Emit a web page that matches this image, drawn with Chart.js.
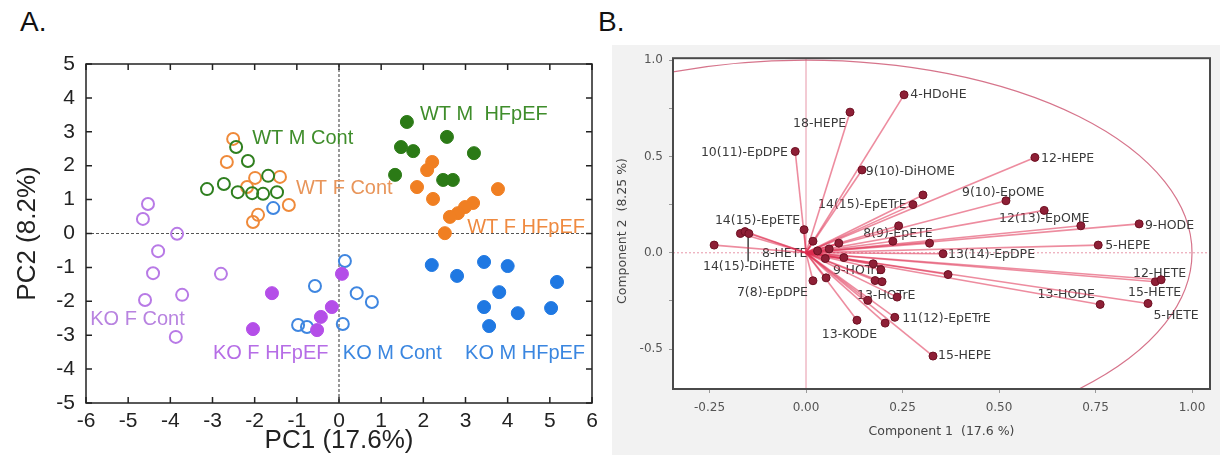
<!DOCTYPE html>
<html>
<head>
<meta charset="utf-8">
<script src="https://cdn.jsdelivr.net/npm/chart.js@4.4.0/dist/chart.umd.min.js"></script>
<style>
  body { margin: 0; background: #fff; width: 1220px; height: 474px; position: relative; overflow: hidden; font-family: 'Liberation Sans', Arial, sans-serif; }
  #pca { position: absolute; left: 0; top: 0; }
  #load { position: absolute; left: 612px; top: 45px; }
  .tag { position: absolute; font-size: 28px; line-height: 28px; color: #111; }
</style>
</head>
<body>
<div class="tag" style="left:20px;top:8px">A.</div>
<div class="tag" style="left:598px;top:8px">B.</div>
<canvas id="pca" width="605" height="474"></canvas>
<canvas id="load" width="608" height="410"></canvas>
<script>
// ---- panel A: PCA scores ----
const wtMCont = [[-2.44,2.55],[-2.16,2.14],[-1.68,1.70],[-3.13,1.31],[-2.73,1.46],[-2.40,1.22],[-2.06,1.19],[-1.80,1.17],[-1.47,1.22]];
const wtFCont = [[-2.51,2.79],[-2.66,2.11],[-1.99,1.64],[-1.40,1.67],[-2.18,1.37],[-1.19,0.84],[-1.92,0.55],[-2.04,0.34]];
const wtMHF = [[1.61,3.29],[2.56,2.85],[1.47,2.55],[1.76,2.43],[3.20,2.37],[1.33,1.73],[2.47,1.58],[2.70,1.58]];
const wtFHF = [[2.21,2.11],[2.09,1.87],[1.85,1.37],[2.23,1.02],[3.77,1.31],[3.18,0.90],[2.99,0.78],[2.82,0.60],[2.63,0.49],[2.51,0.01]];
const koFCont = [[-4.53,0.87],[-4.65,0.43],[-3.84,-0.01],[-4.29,-0.52],[-4.41,-1.17],[-2.80,-1.19],[-4.60,-1.96],[-3.72,-1.81],[-3.87,-3.05]];
const koFHF = [[-1.59,-1.76],[-2.04,-2.82],[-0.52,-2.85],[-0.43,-2.46],[-0.17,-2.17],[0.07,-1.19]];
const koMCont = [[-1.56,0.75],[-0.57,-1.55],[-0.97,-2.70],[-0.76,-2.76],[0.14,-0.81],[0.42,-1.76],[0.78,-2.02],[0.09,-2.67]];
const koMHF = [[2.20,-0.93],[2.80,-1.25],[3.44,-0.84],[4.00,-0.96],[5.17,-1.43],[3.80,-1.73],[3.44,-2.17],[4.24,-2.35],[5.03,-2.20],[3.56,-2.73]];

const groupNames = ['WT M Cont','WT F Cont','WT M  HFpEF','WT F HFpEF','KO F Cont','KO F HFpEF','KO M Cont','KO M HFpEF'];
const groupLabelX = [-2.06, -1.02, 1.92, 3.04, -5.9, -2.99, 0.09, 2.99];
const groupLabelY = [2.79, 1.34, 3.5, 0.19, -2.55, -3.53, -3.53, -3.53];

const groups = [
  { pts: wtMCont, color: '#2f7f1f', text: '#3f8d2b', filled: false },
  { pts: wtFCont, color: '#ef8a3a', text: '#e8955a', filled: false },
  { pts: wtMHF, color: '#2b7a16', text: '#3f8d2b', filled: true },
  { pts: wtFHF, color: '#f07f22', text: '#ef8a40', filled: true },
  { pts: koFCont, color: '#b87ae6', text: '#b883e0', filled: false },
  { pts: koFHF, color: '#b44ee8', text: '#b66de6', filled: true },
  { pts: koMCont, color: '#3f86e0', text: '#3a86e0', filled: false },
  { pts: koMHF, color: '#1f78e2', text: '#3a86e0', filled: true }
];

const decorA = {
  id: 'decorA',
  beforeDatasetsDraw(chart) {
    const { ctx, chartArea: a, scales: { x, y } } = chart;
    ctx.save();
    // dashed zero lines
    ctx.strokeStyle = '#555';
    ctx.lineWidth = 1.2;
    ctx.setLineDash([3, 2]);
    ctx.beginPath();
    ctx.moveTo(x.getPixelForValue(0), a.top); ctx.lineTo(x.getPixelForValue(0), a.bottom);
    ctx.moveTo(a.left, y.getPixelForValue(0)); ctx.lineTo(a.right, y.getPixelForValue(0));
    ctx.stroke();
    ctx.setLineDash([]);
    // group labels
    ctx.font = '20px "Liberation Sans", Arial, sans-serif';
    ctx.textBaseline = 'middle';
    ctx.textAlign = 'left';
    groupNames.forEach((n, i) => {
      ctx.fillStyle = groups[i].text;
      ctx.fillText(n, x.getPixelForValue(groupLabelX[i]), y.getPixelForValue(groupLabelY[i]));
    });
    ctx.restore();
  },
  afterDraw(chart) {
    const { ctx, chartArea: a, scales: { x, y } } = chart;
    ctx.save();
    ctx.strokeStyle = '#222';
    ctx.lineWidth = 1.5;
    ctx.strokeRect(a.left, a.top, a.width, a.height);
    ctx.beginPath();
    x.ticks.forEach(t => {
      const p = x.getPixelForValue(t.value);
      ctx.moveTo(p, a.bottom); ctx.lineTo(p, a.bottom - 6);
      ctx.moveTo(p, a.top); ctx.lineTo(p, a.top + 6);
    });
    y.ticks.forEach(t => {
      const p = y.getPixelForValue(t.value);
      ctx.moveTo(a.left, p); ctx.lineTo(a.left + 6, p);
      ctx.moveTo(a.right, p); ctx.lineTo(a.right - 6, p);
    });
    ctx.stroke();
    // axis titles
    ctx.fillStyle = '#222';
    ctx.font = '26px "Liberation Sans", Arial, sans-serif';
    ctx.textAlign = 'center';
    ctx.textBaseline = 'middle';
    ctx.fillText('PC1 (17.6%)', (a.left + a.right) / 2, 441);
    ctx.translate(28, (a.top + a.bottom) / 2);
    ctx.rotate(-Math.PI / 2);
    ctx.fillText('PC2 (8.2%)', 0, 0);
    ctx.restore();
  }
};

const tickFontA = { family: '"Liberation Sans", Arial, sans-serif', size: 21 };

new Chart(document.getElementById('pca'), {
  type: 'scatter',
  data: {
    datasets: groups.map(g => ({
      data: g.pts.map(p => ({ x: p[0], y: p[1] })),
      pointRadius: g.filled ? 6.5 : 6,
      pointBorderWidth: g.filled ? 1 : 2,
      borderColor: g.color,
      backgroundColor: g.filled ? g.color : 'rgba(255,255,255,0)'
    }))
  },
  options: {
    responsive: false,
    animation: false,
    layout: { padding: { left: 0, top: 64, right: 13, bottom: 0 } },
    plugins: { legend: { display: false }, tooltip: { enabled: false } },
    scales: {
      x: {
        min: -6, max: 6,
        ticks: { stepSize: 1, autoSkip: false, maxRotation: 0, padding: 6, color: '#222', font: tickFontA },
        grid: { display: false, drawTicks: false },
        border: { display: false },
        afterFit: s => { s.height = 71; }
      },
      y: {
        min: -5, max: 5,
        ticks: { stepSize: 1, autoSkip: false, padding: 11, color: '#222', font: tickFontA },
        grid: { display: false, drawTicks: false },
        border: { display: false },
        afterFit: s => { s.width = 86; }
      }
    }
  },
  plugins: [decorA]
});

// ---- panel B: loadings ----
const loadX = [0.254, 0.114, -0.028, 0.145, 0.593, 0.518, 0.303, 0.277, -0.170, -0.158, -0.148, -0.238, -0.005, 0.018, 0.085,
  0.240, 0.225, 0.320, 0.617, 0.712, 0.863, 0.757, 0.355, 0.368, 0.905, 0.920, 0.886, 0.762, 0.098, 0.174,
  0.194, 0.179, 0.197, 0.018, 0.052, 0.160, 0.236, 0.132, 0.205, 0.230, 0.329, 0.030, 0.050, 0.060];
const loadY = [0.820, 0.730, 0.526, 0.430, 0.495, 0.270, 0.300, 0.250, 0.100, 0.110, 0.100, 0.040, 0.120, 0.060, 0.050,
  0.140, 0.060, 0.050, 0.220, 0.140, 0.150, 0.040, -0.005, -0.113, -0.150, -0.140, -0.263, -0.268, -0.025, -0.057,
  -0.088, -0.144, -0.150, -0.145, -0.130, -0.247, -0.230, -0.350, -0.365, -0.335, -0.536, 0.010, -0.030, 0.020];

const labelText = ['4-HDoHE','18-HEPE','10(11)-EpDPE','9(10)-DiHOME','12-HEPE','9(10)-EpOME','14(15)-EpETrE','14(15)-EpETE',
  '12(13)-EpOME','9-HODE','8(9)-EpETE','5-HEPE','13(14)-EpDPE','8-HETE','14(15)-DiHETE','7(8)-EpDPE','12-HETE','15-HETE',
  '5-HETE','13-HODE','9-HOTrE','13-HOTrE','11(12)-EpETrE','13-KODE','15-HEPE'];
const labelX = [0.270, 0.104, -0.047, 0.155, 0.609, 0.404, 0.031, -0.236, 0.500, 0.878, 0.148, 0.775, 0.368, -0.114, -0.267,
  -0.179, 0.847, 0.834, 0.900, 0.600, 0.070, 0.132, 0.249, 0.041, 0.342];
const labelY = [0.820, 0.670, 0.520, 0.423, 0.490, 0.310, 0.247, 0.165, 0.175, 0.140, 0.098, 0.036, -0.010, -0.005, -0.070,
  -0.205, -0.107, -0.210, -0.325, -0.220, -0.093, -0.222, -0.340, -0.428, -0.536];
const labelAlign = ['left','right','right','left','left','left','left','left','left','left','left','left','left','left','left',
  'left','left','left','left','left','left','left','left','left','left'];

const xTicksB = [-0.25, 0, 0.25, 0.5, 0.75, 1.0];
const yTicksB = [-0.5, -0.25, 0, 0.25, 0.5, 0.75, 1.0];

const decorB = {
  id: 'decorB',
  beforeDraw(chart) {
    const { ctx, chartArea: a, width, height } = chart;
    ctx.save();
    ctx.fillStyle = '#f2f2f2';
    ctx.fillRect(0, 0, width, height);
    ctx.fillStyle = '#fff';
    ctx.fillRect(a.left, a.top, a.width, a.height);
    ctx.restore();
  },
  beforeDatasetsDraw(chart) {
    const { ctx, chartArea: a, scales: { x, y } } = chart;
    const cx = x.getPixelForValue(0), cy = y.getPixelForValue(0);
    ctx.save();
    ctx.beginPath();
    ctx.rect(a.left, a.top, a.width, a.height);
    ctx.clip();
    // unit correlation circle
    ctx.strokeStyle = 'rgba(200,70,100,0.75)';
    ctx.lineWidth = 1.2;
    ctx.beginPath();
    ctx.ellipse(cx, cy, x.getPixelForValue(1) - cx, cy - y.getPixelForValue(1), 0, 0, Math.PI * 2);
    ctx.stroke();
    // zero lines
    ctx.strokeStyle = 'rgba(215,80,110,0.6)';
    ctx.lineWidth = 1;
    ctx.beginPath();
    ctx.moveTo(cx, a.top); ctx.lineTo(cx, a.bottom);
    ctx.stroke();
    ctx.setLineDash([2, 2]);
    ctx.beginPath();
    ctx.moveTo(a.left, cy); ctx.lineTo(a.right, cy);
    ctx.stroke();
    ctx.setLineDash([]);
    // labels
    ctx.fillStyle = '#3a3a3a';
    ctx.font = '12.5px "DejaVu Sans", sans-serif';
    ctx.textBaseline = 'middle';
    labelText.forEach((t, i) => {
      ctx.textAlign = labelAlign[i];
      ctx.fillText(t, x.getPixelForValue(labelX[i]), y.getPixelForValue(labelY[i]));
    });
    // leader from 14(15)-DiHETE
    ctx.strokeStyle = '#222';
    ctx.lineWidth = 1.3;
    ctx.beginPath();
    ctx.moveTo(x.getPixelForValue(-0.15), y.getPixelForValue(-0.045));
    ctx.lineTo(x.getPixelForValue(-0.15), y.getPixelForValue(0.10));
    ctx.stroke();
    ctx.restore();
  },
  afterDraw(chart) {
    const { ctx, chartArea: a } = chart;
    ctx.save();
    ctx.strokeStyle = '#4a4a4a';
    ctx.lineWidth = 2;
    ctx.strokeRect(a.left, a.top, a.width, a.height);
    ctx.fillStyle = '#444';
    ctx.font = '12.5px "DejaVu Sans", sans-serif';
    ctx.textAlign = 'center';
    ctx.textBaseline = 'middle';
    ctx.fillText('Component 1  (17.6 %)', (a.left + a.right) / 2, 387);
    ctx.translate(11, 186);
    ctx.rotate(-Math.PI / 2);
    ctx.fillText('Component 2  (8.25 %)', 0, 0);
    ctx.restore();
  }
};

const tickFontB = { family: '"DejaVu Sans", sans-serif', size: 12 };

new Chart(document.getElementById('load'), {
  type: 'scatter',
  data: {
    datasets: [
      {
        data: loadX.map((v, i) => ({ x: v, y: loadY[i] })),
        order: 0,
        pointRadius: 4,
        pointBorderWidth: 1,
        borderColor: '#6e1022',
        backgroundColor: '#8e1f36'
      },
      ...loadX.map((v, i) => ({
        data: [{ x: 0, y: 0 }, { x: v, y: loadY[i] }],
        order: 1,
        showLine: true,
        pointRadius: 0,
        borderWidth: 1.6,
        borderColor: 'rgba(222,45,80,0.55)'
      }))
    ]
  },
  options: {
    responsive: false,
    animation: false,
    layout: { padding: { left: 0, top: 12, right: 10, bottom: 0 } },
    plugins: { legend: { display: false }, tooltip: { enabled: false } },
    scales: {
      x: {
        min: -0.3446, max: 1.0466,
        afterBuildTicks: s => { s.ticks = xTicksB.map(v => ({ value: v })); },
        ticks: { autoSkip: false, maxRotation: 0, padding: 8, color: '#555', font: tickFontB, callback: v => v.toFixed(2) },
        grid: { drawOnChartArea: false, tickLength: 4, color: '#999' },
        border: { display: false },
        afterFit: s => { s.height = 66; }
      },
      y: {
        min: -0.707, max: 1.01,
        afterBuildTicks: s => { s.ticks = yTicksB.map(v => ({ value: v })); },
        ticks: { autoSkip: false, padding: 6, color: '#555', font: tickFontB,
          callback: v => (Math.abs(v * 2 - Math.round(v * 2)) < 1e-6 ? v.toFixed(1) : '') },
        grid: { drawOnChartArea: false, tickLength: 4, color: '#999' },
        border: { display: false },
        afterFit: s => { s.width = 61; }
      }
    }
  },
  plugins: [decorB]
});
</script>
</body>
</html>
